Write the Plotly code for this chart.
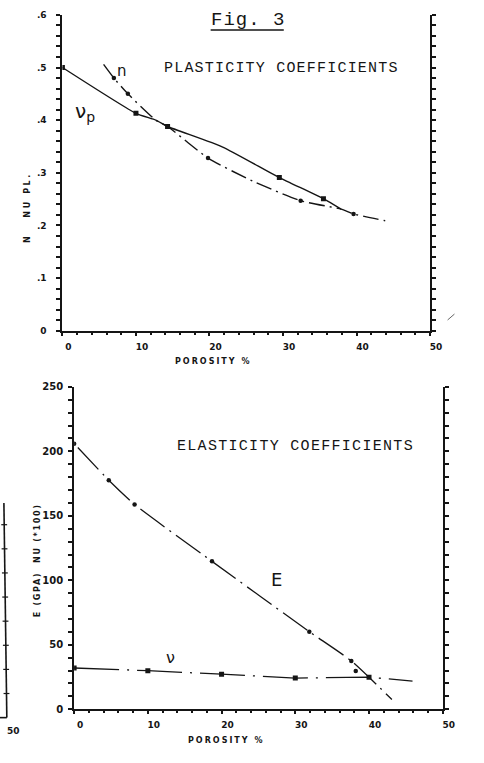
import plotly.graph_objects as go

# ---------------- data: top panel (plasticity coefficients) ----------------
nu_p_line_x = [0, 10, 12.7, 14.3, 21.8, 29.5, 35.5, 37.9]
nu_p_line_y = [0.500, 0.413, 0.400, 0.388, 0.349, 0.291, 0.251, 0.231]
nu_p_pts_x = [0, 10, 14.3, 29.5, 35.5]
nu_p_pts_y = [0.500, 0.413, 0.388, 0.291, 0.251]

n_line_x = [5.6, 7.0, 8.9, 12.7, 14.3, 19.8, 25.9, 32.4, 37.9, 39.6, 43.9]
n_line_y = [0.506, 0.480, 0.450, 0.400, 0.388, 0.328, 0.284, 0.247, 0.231, 0.222, 0.209]
n_pts_x = [7.0, 8.9, 19.8, 32.4, 39.6]
n_pts_y = [0.480, 0.450, 0.328, 0.247, 0.222]

# ---------------- data: bottom panel (elasticity coefficients) -------------
E_line_x = [0.5, 4.7, 8.2, 18.7, 31.9, 37.6, 43.1]
E_line_y = [203, 177.6, 158.8, 114.7, 60.2, 37.5, 7.6]
E_pts_x = [0, 4.7, 8.2, 18.7, 31.9, 37.6, 38.2]
E_pts_y = [206, 177.6, 158.8, 114.7, 60.2, 37.5, 29.7]

nu_line_x = [0, 10, 20, 30, 40, 45.9]
nu_line_y = [32.0, 29.9, 27.2, 24.2, 24.9, 21.8]
nu_pts_x = [0, 10, 20, 30, 40]
nu_pts_y = [32.0, 29.9, 27.2, 24.2, 24.9]

# ---------------- tick labels ----------------
x_tickvals = [0, 10, 20, 30, 40, 50]
x_ticktext = ["0", "10", "20", "30", "40", "50"]
top_y_tickvals = [0, 0.1, 0.2, 0.3, 0.4, 0.5, 0.6]
top_y_ticktext = ["0", ".1", ".2", ".3", ".4", ".5", ".6"]
bot_y_tickvals = [0, 50, 100, 150, 200, 250]
bot_y_ticktext = ["0", "50", "100", "150", "200", "250"]

INK = "#151515"
W, H = 484, 763


def px(x):
    return x / W


def py(y):
    return 1 - y / H


fig = go.Figure()

# top panel traces
fig.add_trace(go.Scatter(x=nu_p_line_x, y=nu_p_line_y, mode="lines",
                         line=dict(color=INK, width=1.4, shape="spline", smoothing=0.5),
                         xaxis="x", yaxis="y", showlegend=False, hoverinfo="skip"))
fig.add_trace(go.Scatter(x=n_line_x, y=n_line_y, mode="lines",
                         line=dict(color=INK, width=1.4, shape="spline", smoothing=0.5, dash="16px,5px,2px,5px"),
                         xaxis="x", yaxis="y", showlegend=False, hoverinfo="skip"))
fig.add_trace(go.Scatter(x=nu_p_pts_x, y=nu_p_pts_y, mode="markers",
                         marker=dict(symbol="square", size=5, color=INK),
                         xaxis="x", yaxis="y", showlegend=False))
fig.add_trace(go.Scatter(x=n_pts_x, y=n_pts_y, mode="markers",
                         marker=dict(symbol="circle", size=4.5, color=INK),
                         xaxis="x", yaxis="y", showlegend=False))

# bottom panel traces
fig.add_trace(go.Scatter(x=E_line_x, y=E_line_y, mode="lines",
                         line=dict(color=INK, width=1.3, shape="spline", smoothing=0.5, dash="30px,6px,2px,6px"),
                         xaxis="x2", yaxis="y2", showlegend=False, hoverinfo="skip"))
fig.add_trace(go.Scatter(x=nu_line_x, y=nu_line_y, mode="lines",
                         line=dict(color=INK, width=1.3, dash="45px,8px,2px,8px"),
                         xaxis="x2", yaxis="y2", showlegend=False, hoverinfo="skip"))
fig.add_trace(go.Scatter(x=E_pts_x, y=E_pts_y, mode="markers",
                         marker=dict(symbol="circle", size=4.5, color=INK),
                         xaxis="x2", yaxis="y2", showlegend=False))
fig.add_trace(go.Scatter(x=nu_pts_x, y=nu_pts_y, mode="markers",
                         marker=dict(symbol="square", size=5, color=INK),
                         xaxis="x2", yaxis="y2", showlegend=False))

# ---------------- axes ----------------
TOP_X = [px(64), px(441)]
TOP_Y = [py(330), py(9)]
BOT_X = [px(76), px(454)]
BOT_Y = [py(714.5), py(387)]

TL = 4
tickfont = dict(family="DejaVu Sans", size=9, color=INK, weight="bold")
base = dict(showgrid=False, zeroline=False, fixedrange=True)


def main_x(domain, anchor):
    return dict(base, domain=domain, anchor=anchor, range=[0, 50], showline=True, linecolor=INK, linewidth=2,
                tickmode="array", tickvals=x_tickvals, ticktext=x_ticktext, ticks="outside", ticklen=TL - 1,
                tickwidth=1.5, tickcolor=INK, tickfont=tickfont, ticklabelstandoff=3, ticklabelshift=6,
                minor=dict(tickmode="linear", tick0=0, dtick=2, ticks="outside", ticklen=TL - 2, tickwidth=1.5,
                           tickcolor=INK))


def in_x(over, anchor, domain):
    return dict(base, domain=domain, overlaying=over, anchor=anchor, range=[0, 50], showline=False,
                tickmode="linear", tick0=0, dtick=2, ticks="inside", ticklen=TL - 1, tickwidth=1.5, tickcolor=INK,
                showticklabels=False)


def main_y(domain, anchor, rng, vals, text, minor_dt, standoff, size):
    return dict(base, domain=domain, anchor=anchor, range=rng, showline=True, linecolor=INK, linewidth=2,
                mirror="allticks", tickmode="array", tickvals=vals, ticktext=text, ticks="outside", ticklen=TL,
                tickwidth=1.5, tickcolor=INK, tickfont=dict(tickfont, size=size), ticklabelstandoff=standoff,
                minor=dict(tickmode="linear", tick0=0, dtick=minor_dt, ticks="outside", ticklen=TL,
                           tickwidth=1.5, tickcolor=INK))


def in_y(over, anchor, domain, rng, dt):
    return dict(base, domain=domain, overlaying=over, anchor=anchor, range=rng, showline=False,
                mirror="allticks", tickmode="linear", tick0=0, dtick=dt, ticks="inside", ticklen=TL,
                tickwidth=1.5, tickcolor=INK, showticklabels=False)


layout = dict(
    width=W, height=H, margin=dict(l=0, r=0, t=0, b=0),
    paper_bgcolor="white", plot_bgcolor="rgba(0,0,0,0)", showlegend=False,
    xaxis=main_x(TOP_X, "y"),
    yaxis=main_y(TOP_Y, "x", [0, 0.6], top_y_tickvals, top_y_ticktext, 0.02, 8, 9),
    xaxis2=main_x(BOT_X, "y2"),
    yaxis2=main_y(BOT_Y, "x2", [0, 250], bot_y_tickvals, bot_y_ticktext, 10, 3, 10),
    xaxis3=in_x("x", "y", TOP_X),
    yaxis3=in_y("y", "x", TOP_Y, [0, 0.6], 0.02),
    xaxis4=in_x("x2", "y2", BOT_X),
    yaxis4=in_y("y2", "x2", BOT_Y, [0, 250], 10),
)
fig.update_layout(**layout)


# ---------------- text ----------------
def ann(text, x, y, size, family="DejaVu Sans", angle=0, weight="normal", **kw):
    fig.add_annotation(text=text, x=px(x), y=py(y), xref="paper", yref="paper", showarrow=False,
                       textangle=angle, xanchor="center", yanchor="middle",
                       font=dict(family=family, size=size, color=INK, weight=weight), **kw)


def spaced(t, s):
    return '<span style="letter-spacing:%spx">%s</span>' % (s, t)


ann(spaced("Fig. 3", 1), 254, 14, 19, family="Liberation Mono")
fig.add_shape(type="line", xref="paper", yref="paper", x0=px(216), x1=px(291), y0=py(24.5), y1=py(24.5),
              line=dict(color=INK, width=1.5))
ann(spaced("PLASTICITY COEFFICIENTS", 1.2), 289, 64, 15, family="Liberation Mono")
ann(spaced("ELASTICITY COEFFICIENTS", 1.3), 303, 448, 15, family="Liberation Mono")

ann(spaced("POROSITY %", 2), 218, 361, 8, weight="bold")
ann(spaced("POROSITY %", 2), 232, 746, 8, weight="bold")
ann(spaced("N   NU PL.", 2.6), 28, 205, 8, angle=-90, weight="bold")
ann(spaced("E (GPA)  NU (*100)", 1.7), 38, 563, 8, angle=-90, weight="bold")

ann("ν<sub>p</sub>", 87, 108, 20)
ann("n", 125, 66, 15)
ann("E", 284, 583, 18)
ann("ν", 175, 662, 16)

# fragment of the neighbouring figure at the left edge (decoration)
fig.add_shape(type="line", xref="paper", yref="paper", x0=px(4), x1=px(7), y0=py(505), y1=py(723),
              line=dict(color=INK, width=1.6))
fig.add_shape(type="line", xref="paper", yref="paper", x0=px(0), x1=px(7), y0=py(723), y1=py(723),
              line=dict(color=INK, width=1.6))
for k in range(1, 9):
    yy = 723 - 24.5 * k
    xx = 7 - 3 * (24.5 * k) / 218
    fig.add_shape(type="line", xref="paper", yref="paper", x0=px(xx - 3), x1=px(xx + 3), y0=py(yy), y1=py(yy),
                  line=dict(color=INK, width=1.2))
ann("50", 14, 737, 9, weight="bold")
# small stray pen mark at the right
fig.add_shape(type="line", xref="paper", yref="paper", x0=px(459), x1=px(466), y0=py(319), y1=py(313),
              line=dict(color="#666", width=1))

fig.write_html("out.html", config={"displayModeBar": False},
               post_script="document.body.style.margin='0';document.body.style.overflow='hidden';")
